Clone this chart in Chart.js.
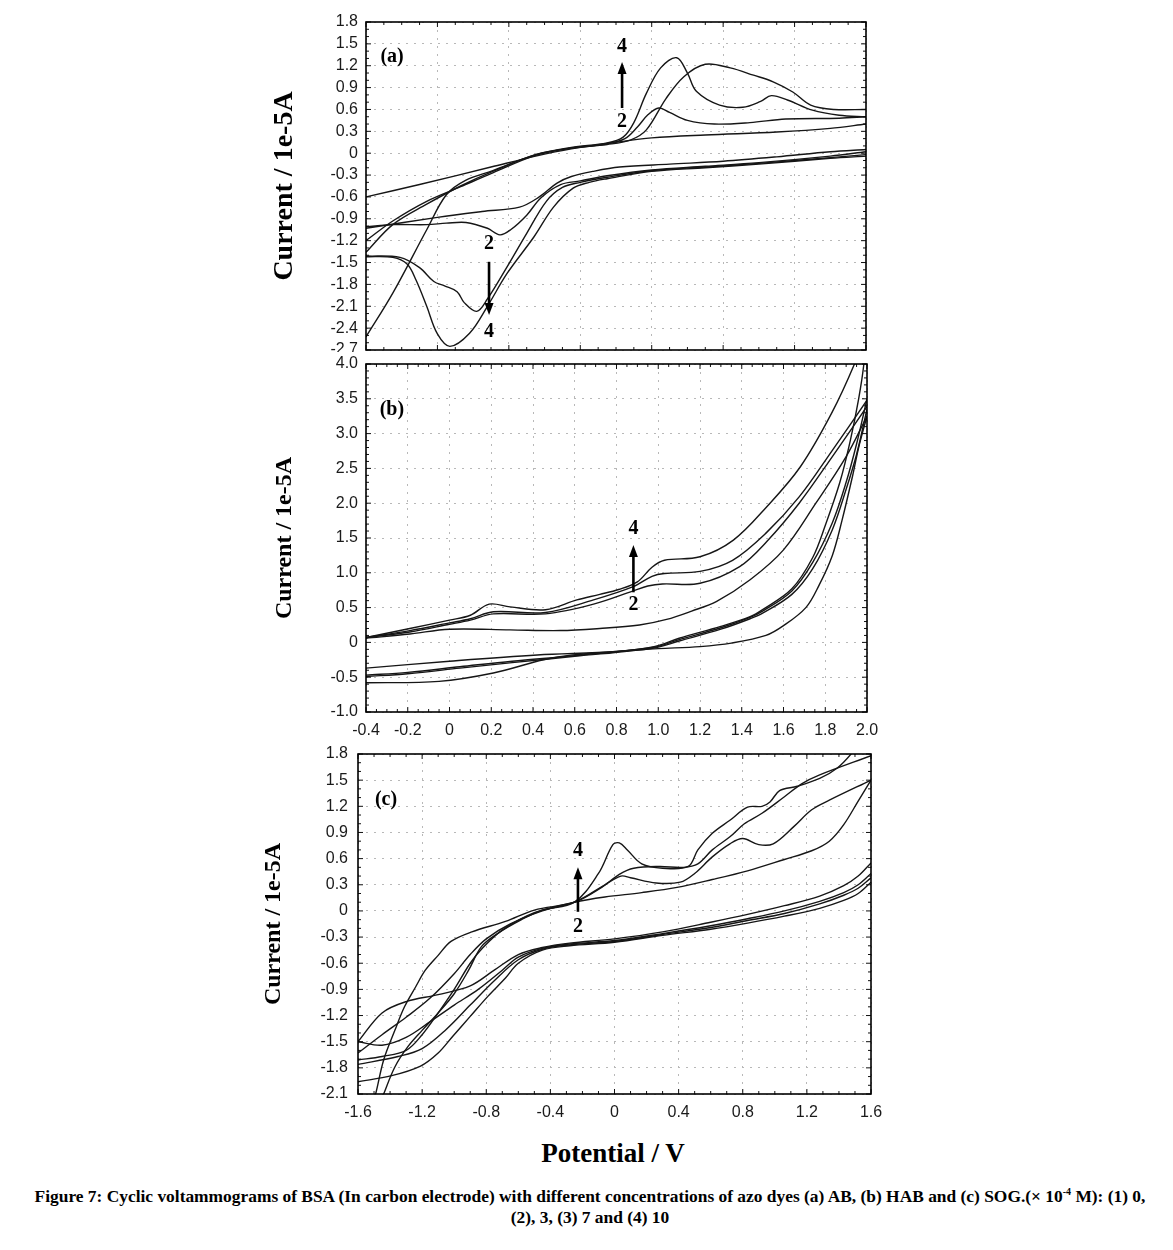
<!DOCTYPE html>
<html>
<head>
<meta charset="utf-8">
<script src="https://cdn.jsdelivr.net/npm/chart.js@4.4.1/dist/chart.umd.min.js"></script>
<style>
  body { margin: 0; background: #fff; }
  #page { position: relative; width: 1173px; height: 1250px; overflow: hidden; background: #fff; }
  canvas { position: absolute; }
  .xtitle { position: absolute; left: 463px; width: 300px; top: 1137px; text-align: center;
            font: bold 27px/32px "Liberation Serif", "Times New Roman", serif; color: #000; }
  .caption { position: absolute; left: 0; width: 1180px; top: 1186px; text-align: center;
             font: bold 17.4px/21px "Liberation Serif", "Times New Roman", serif; color: #000; white-space: nowrap; }
  .caption sup { font-size: 10px; line-height: 0; }
</style>
</head>
<body>
<div id="page">
  <canvas id="chartA" width="620" height="342" style="left:260px;top:10px"></canvas>
  <canvas id="chartB" width="620" height="390" style="left:260px;top:355px"></canvas>
  <canvas id="chartC" width="635" height="395" style="left:250px;top:740px"></canvas>
  <div class="xtitle">Potential / V</div>
  <div class="caption">Figure 7: Cyclic voltammograms of BSA (In carbon electrode) with different concentrations of azo dyes (a) AB, (b) HAB and (c) SOG.(× 10<sup>-4</sup> M): (1) 0,<br>(2), 3, (3) 7 and (4) 10</div>
</div>
<script>
// ---- tick labels ----
const aXTicks = [-0.4, 0, 0.4, 0.8, 1.2, 1.6, 2.0, 2.4];
const aYTicks = [-2.7, -2.4, -2.1, -1.8, -1.5, -1.2, -0.9, -0.6, -0.3, 0, 0.3, 0.6, 0.9, 1.2, 1.5, 1.8];
const bXTicks = [-0.4, -0.2, 0, 0.2, 0.4, 0.6, 0.8, 1.0, 1.2, 1.4, 1.6, 1.8, 2.0];
const bYTicks = [-1.0, -0.5, 0, 0.5, 1.0, 1.5, 2.0, 2.5, 3.0, 3.5, 4.0];
const cXTicks = [-1.6, -1.2, -0.8, -0.4, 0, 0.4, 0.8, 1.2, 1.6];
const cYTicks = [-2.1, -1.8, -1.5, -1.2, -0.9, -0.6, -0.3, 0, 0.3, 0.6, 0.9, 1.2, 1.5, 1.8];

// ---- (a) AB : [potential V, current 1e-5A], forward and reverse sweeps ----
const a1Fwd = [[-0.4,-0.6],[-0.1,-0.43],[0.3,-0.19],[0.55,-0.04],[0.75,0.06],[1.0,0.15],[1.2,0.21],[1.5,0.25],[1.9,0.29],[2.2,0.34],[2.4,0.4]];
const a2Fwd = [[-0.4,-1.2],[-0.25,-0.93],[-0.06,-0.66],[0.13,-0.46],[0.31,-0.27],[0.55,-0.03],[0.75,0.07],[0.95,0.13],[1.05,0.2],[1.12,0.36],[1.18,0.53],[1.24,0.62],[1.3,0.56],[1.4,0.45],[1.55,0.4],[1.75,0.42],[1.95,0.47],[2.25,0.48],[2.4,0.5]];
const a3Fwd = [[-0.4,-1.36],[-0.25,-0.98],[-0.06,-0.7],[0.13,-0.45],[0.31,-0.25],[0.55,-0.02],[0.75,0.07],[0.95,0.12],[1.08,0.18],[1.17,0.32],[1.28,0.75],[1.38,1.05],[1.5,1.22],[1.64,1.17],[1.77,1.07],[1.88,0.98],[1.99,0.84],[2.09,0.66],[2.22,0.6],[2.4,0.6]];
const a4Fwd = [[-0.4,-2.52],[-0.25,-1.92],[-0.06,-1.05],[0.05,-0.57],[0.16,-0.37],[0.31,-0.24],[0.55,-0.02],[0.75,0.08],[0.95,0.14],[1.04,0.22],[1.1,0.42],[1.17,0.82],[1.25,1.17],[1.34,1.31],[1.4,1.1],[1.45,0.85],[1.58,0.66],[1.71,0.63],[1.81,0.71],[1.87,0.79],[1.96,0.73],[2.1,0.59],[2.25,0.52],[2.4,0.5]];
const a1Rev = [[2.4,0.05],[2.2,0.02],[1.9,-0.05],[1.6,-0.11],[1.3,-0.15],[1.02,-0.19],[0.87,-0.25],[0.75,-0.32],[0.67,-0.41],[0.57,-0.6],[0.46,-0.74],[0.25,-0.8],[0.0,-0.88],[-0.4,-1.03]];
const a2Rev = [[2.4,0.02],[2.2,-0.04],[1.8,-0.13],[1.5,-0.18],[1.2,-0.23],[0.95,-0.31],[0.8,-0.38],[0.69,-0.43],[0.58,-0.61],[0.5,-0.85],[0.41,-1.05],[0.35,-1.12],[0.28,-1.03],[0.16,-0.95],[0.05,-0.96],[-0.06,-0.98],[-0.25,-0.98],[-0.4,-1.01]];
const a3Rev = [[2.4,-0.02],[2.2,-0.06],[1.8,-0.14],[1.5,-0.19],[1.2,-0.24],[0.95,-0.33],[0.8,-0.4],[0.7,-0.47],[0.61,-0.66],[0.5,-1.1],[0.39,-1.56],[0.28,-2.0],[0.22,-2.17],[0.15,-2.05],[0.11,-1.9],[0.04,-1.82],[-0.02,-1.76],[-0.1,-1.57],[-0.21,-1.43],[-0.4,-1.41]];
const a4Rev = [[2.4,-0.04],[2.2,-0.07],[1.8,-0.15],[1.5,-0.2],[1.2,-0.25],[0.95,-0.35],[0.85,-0.4],[0.76,-0.48],[0.65,-0.74],[0.54,-1.15],[0.39,-1.65],[0.28,-2.1],[0.18,-2.47],[0.07,-2.65],[0.0,-2.48],[-0.06,-2.1],[-0.12,-1.74],[-0.17,-1.52],[-0.25,-1.43],[-0.4,-1.42]];

// ---- (b) HAB ----
const b1Fwd = [[-0.4,0.06],[-0.19,0.12],[0.0,0.19],[0.29,0.18],[0.53,0.17],[0.72,0.2],[0.91,0.25],[1.04,0.33],[1.16,0.45],[1.28,0.59],[1.44,0.9],[1.6,1.33],[1.755,2.0],[1.9,2.67],[2.0,3.25]];
const b2Fwd = [[-0.4,0.07],[-0.19,0.15],[0.0,0.26],[0.1,0.32],[0.21,0.41],[0.46,0.41],[0.69,0.55],[0.88,0.74],[0.95,0.81],[1.02,0.84],[1.2,0.85],[1.39,1.09],[1.52,1.45],[1.675,2.0],[1.834,2.67],[2.0,3.39]];
const b3Fwd = [[-0.4,0.07],[-0.19,0.17],[0.0,0.28],[0.1,0.34],[0.21,0.44],[0.46,0.43],[0.69,0.61],[0.88,0.8],[0.97,0.95],[1.03,0.99],[1.2,1.02],[1.356,1.18],[1.516,1.57],[1.675,2.09],[1.834,2.76],[2.0,3.48]];
const b4Fwd = [[-0.4,0.07],[-0.19,0.2],[0.0,0.32],[0.1,0.39],[0.19,0.55],[0.29,0.51],[0.46,0.47],[0.61,0.61],[0.72,0.69],[0.81,0.76],[0.9,0.87],[0.97,1.08],[1.03,1.18],[1.2,1.23],[1.36,1.47],[1.52,1.95],[1.68,2.52],[1.83,3.29],[1.94,4.0],[2.0,4.5]];
const b1Rev = [[2.0,3.25],[1.96,2.8],[1.93,2.38],[1.88,1.75],[1.834,1.25],[1.77,0.82],[1.707,0.5],[1.6,0.24],[1.516,0.1],[1.35,-0.01],[1.2,-0.06],[1.0,-0.09],[0.9,-0.11],[0.59,-0.18],[0.45,-0.25],[0.21,-0.44],[-0.05,-0.56],[-0.4,-0.58]];
const b2Rev = [[2.0,3.35],[1.95,2.7],[1.9,2.2],[1.834,1.62],[1.74,1.06],[1.64,0.69],[1.5,0.42],[1.44,0.34],[1.3,0.19],[1.1,0.02],[0.98,-0.08],[0.6,-0.2],[0.3,-0.29],[0.05,-0.37],[-0.2,-0.45],[-0.4,-0.49]];
const b3Rev = [[2.0,3.5],[1.95,2.85],[1.9,2.3],[1.834,1.72],[1.74,1.15],[1.64,0.74],[1.5,0.45],[1.44,0.36],[1.3,0.21],[1.1,0.04],[0.98,-0.07],[0.6,-0.19],[0.3,-0.27],[0.05,-0.35],[-0.2,-0.43],[-0.4,-0.47]];
const b4Rev = [[2.0,4.6],[1.985,4.0],[1.96,3.5],[1.92,2.9],[1.87,2.3],[1.8,1.68],[1.74,1.22],[1.64,0.77],[1.5,0.47],[1.44,0.37],[1.3,0.23],[1.1,0.06],[0.98,-0.06],[0.8,-0.13],[0.42,-0.18],[0.0,-0.27],[-0.4,-0.37]];

// ---- (c) SOG ----
const c1Fwd = [[-1.6,-1.63],[-1.45,-1.42],[-1.3,-1.22],[-1.15,-1.0],[-1.0,-0.72],[-0.9,-0.5],[-0.8,-0.32],[-0.65,-0.15],[-0.45,0.0],[-0.25,0.1],[-0.06,0.16],[0.17,0.21],[0.39,0.27],[0.61,0.36],[0.83,0.46],[1.06,0.59],[1.23,0.69],[1.34,0.8],[1.43,0.99],[1.52,1.26],[1.6,1.5]];
const c2Fwd = [[-1.6,-1.71],[-1.45,-1.67],[-1.3,-1.6],[-1.2,-1.42],[-1.1,-1.17],[-1.0,-0.9],[-0.9,-0.6],[-0.82,-0.42],[-0.7,-0.22],[-0.5,-0.02],[-0.25,0.1],[-0.06,0.3],[0.04,0.4],[0.1,0.38],[0.26,0.32],[0.41,0.33],[0.5,0.43],[0.61,0.62],[0.72,0.77],[0.8,0.83],[0.9,0.76],[0.99,0.77],[1.12,0.97],[1.23,1.16],[1.34,1.27],[1.6,1.5]];
const c3Fwd = [[-1.51,-2.2],[-1.49,-2.1],[-1.44,-1.71],[-1.37,-1.37],[-1.31,-1.1],[-1.24,-0.87],[-1.18,-0.68],[-1.1,-0.51],[-1.02,-0.35],[-0.89,-0.24],[-0.68,-0.12],[-0.5,0.01],[-0.25,0.1],[-0.08,0.27],[0.03,0.42],[0.12,0.49],[0.28,0.51],[0.43,0.5],[0.52,0.54],[0.61,0.7],[0.72,0.85],[0.81,1.0],[0.92,1.12],[1.06,1.31],[1.17,1.46],[1.28,1.56],[1.6,1.78]];
const c4Fwd = [[-1.46,-2.2],[-1.44,-2.1],[-1.37,-1.79],[-1.29,-1.56],[-1.2,-1.37],[-1.1,-1.17],[-1.0,-0.95],[-0.91,-0.68],[-0.83,-0.41],[-0.73,-0.26],[-0.58,-0.1],[-0.45,0.01],[-0.25,0.1],[-0.1,0.43],[-0.01,0.76],[0.03,0.78],[0.08,0.7],[0.17,0.54],[0.3,0.49],[0.46,0.51],[0.52,0.7],[0.61,0.89],[0.72,1.04],[0.83,1.19],[0.92,1.2],[0.97,1.25],[1.03,1.38],[1.14,1.43],[1.28,1.52],[1.39,1.64],[1.48,1.81],[1.55,2.0]];
const c1Rev = [[1.6,0.55],[1.52,0.4],[1.43,0.29],[1.28,0.17],[1.06,0.06],[0.83,-0.04],[0.6,-0.13],[0.3,-0.24],[0.0,-0.32],[-0.28,-0.37],[-0.45,-0.42],[-0.6,-0.5],[-0.75,-0.68],[-0.9,-0.86],[-1.1,-0.96],[-1.3,-1.04],[-1.45,-1.17],[-1.6,-1.5]];
const c2Rev = [[1.6,0.43],[1.52,0.3],[1.43,0.21],[1.28,0.11],[1.06,0.0],[0.83,-0.09],[0.6,-0.17],[0.3,-0.26],[0.0,-0.34],[-0.28,-0.38],[-0.45,-0.43],[-0.6,-0.53],[-0.7,-0.68],[-0.85,-0.9],[-1.0,-1.08],[-1.15,-1.27],[-1.3,-1.45],[-1.45,-1.54],[-1.6,-1.5]];
const c3Rev = [[1.6,0.38],[1.52,0.26],[1.43,0.18],[1.28,0.08],[1.06,-0.03],[0.83,-0.11],[0.6,-0.19],[0.3,-0.27],[0.0,-0.35],[-0.28,-0.39],[-0.45,-0.44],[-0.6,-0.56],[-0.75,-0.8],[-0.9,-1.08],[-1.05,-1.36],[-1.2,-1.58],[-1.35,-1.67],[-1.6,-1.76]];
const c4Rev = [[1.6,0.33],[1.52,0.2],[1.43,0.12],[1.28,0.03],[1.06,-0.06],[0.83,-0.14],[0.6,-0.21],[0.3,-0.28],[0.0,-0.36],[-0.28,-0.4],[-0.45,-0.45],[-0.6,-0.6],[-0.68,-0.77],[-0.79,-0.98],[-0.9,-1.21],[-1.01,-1.44],[-1.1,-1.63],[-1.21,-1.78],[-1.39,-1.89],[-1.6,-1.96]];

const tickFont = { family: "'Liberation Sans', Arial, sans-serif", size: 16 };
const noteFont = "bold 20px 'Liberation Serif', 'Times New Roman', serif";
function titleFont(size) { return { family: "'Liberation Serif', 'Times New Roman', serif", size: size, weight: 'bold' }; }

function pts(arr) { return arr.map(p => ({ x: p[0], y: p[1] })); }
function fmt(v) { return v === 0 ? '0' : v.toFixed(1); }

// box, inner ticks on all four sides, panel labels and arrows
const framePlugin = {
  id: 'frame',
  afterDatasetsDraw(chart, args, o) {
    const { ctx, chartArea: a, scales: { x, y } } = chart;
    ctx.save();
    ctx.strokeStyle = '#111';
    ctx.lineWidth = 1;
    const drawTicks = (scale, n, horiz) => {
      const vals = scale.ticks.map(t => t.value);
      for (let k = 0; k < vals.length; k++) {
        const marks = [[vals[k], 5]];
        if (k < vals.length - 1) {
          for (let m = 1; m < n; m++) marks.push([vals[k] + (vals[k + 1] - vals[k]) * m / n, 3]);
        }
        marks.forEach(([v, len]) => {
          const p = scale.getPixelForValue(v);
          ctx.beginPath();
          if (horiz) {
            ctx.moveTo(p, a.top); ctx.lineTo(p, a.top + len);
            ctx.moveTo(p, a.bottom); ctx.lineTo(p, a.bottom - len);
          } else {
            ctx.moveTo(a.left, p); ctx.lineTo(a.left + len, p);
            ctx.moveTo(a.right, p); ctx.lineTo(a.right - len, p);
          }
          ctx.stroke();
        });
      }
    };
    drawTicks(x, o.xMinor, true);
    drawTicks(y, o.yMinor, false);
    ctx.lineWidth = 1.6;
    ctx.strokeStyle = '#000';
    ctx.strokeRect(a.left, a.top, a.right - a.left, a.bottom - a.top);

    ctx.fillStyle = '#000';
    ctx.strokeStyle = '#000';
    ctx.textAlign = 'center';
    ctx.textBaseline = 'middle';
    ctx.font = noteFont;
    (o.notes || []).forEach(n => {
      ctx.fillText(n.text, x.getPixelForValue(n.x), y.getPixelForValue(n.y));
    });
    (o.arrows || []).forEach(ar => {
      const px = x.getPixelForValue(ar.x);
      const y0 = y.getPixelForValue(ar.from);
      const y1 = y.getPixelForValue(ar.to);
      const dir = Math.sign(y1 - y0);
      ctx.lineWidth = 2.6;
      ctx.beginPath(); ctx.moveTo(px, y0); ctx.lineTo(px, y1 - dir * 10); ctx.stroke();
      ctx.beginPath();
      ctx.moveTo(px, y1);
      ctx.lineTo(px - 4.5, y1 - dir * 12);
      ctx.lineTo(px + 4.5, y1 - dir * 12);
      ctx.closePath();
      ctx.fill();
    });
    ctx.restore();
  }
};

function makeCV(id, p) {
  return new Chart(document.getElementById(id), {
    type: 'scatter',
    data: {
      datasets: p.branches.map(b => ({
        data: pts(b), showLine: true, borderColor: '#161616', borderWidth: 1.4,
        pointRadius: 0, tension: 0.35, fill: false
      }))
    },
    options: {
      responsive: false,
      animation: false,
      layout: { padding: p.pad },
      plugins: {
        legend: { display: false },
        tooltip: { enabled: false },
        frame: { xMinor: p.xMinor, yMinor: p.yMinor, notes: p.notes, arrows: p.arrows }
      },
      scales: {
        x: {
          type: 'linear',
          min: p.xTicks[0], max: p.xTicks[p.xTicks.length - 1],
          afterBuildTicks: s => { s.ticks = p.xTicks.map(v => ({ value: v })); },
          afterFit: s => { s.height = p.xHeight; s.paddingLeft = 0; s.paddingRight = 0; },
          ticks: { display: p.showX, callback: fmt, font: tickFont, color: '#1a1a1a', padding: 9, maxRotation: 0, autoSkip: false },
          grid: { color: '#b8b8b8', drawTicks: false },
          border: { display: false, dash: [2, 6] }
        },
        y: {
          type: 'linear',
          min: p.yTicks[0], max: p.yTicks[p.yTicks.length - 1],
          afterBuildTicks: s => { s.ticks = p.yTicks.map(v => ({ value: v })); },
          afterFit: s => { s.width = p.yWidth; s.paddingTop = 0; s.paddingBottom = 0; },
          ticks: { callback: fmt, font: tickFont, color: '#1a1a1a', padding: p.yPad, autoSkip: false },
          grid: { color: '#b8b8b8', drawTicks: false },
          border: { display: false, dash: [2, 6] },
          title: { display: true, text: 'Current / 1e-5A', font: titleFont(p.titleSize), color: '#000', padding: { top: p.titlePad, bottom: 0 } }
        }
      }
    },
    plugins: [framePlugin]
  });
}

makeCV('chartA', {
  branches: [a1Fwd, a2Fwd, a3Fwd, a4Fwd, a1Rev, a2Rev, a3Rev, a4Rev],
  xTicks: aXTicks, yTicks: aYTicks, showX: false,
  xHeight: 0, yWidth: 106, yPad: 8, titlePad: 8, titleSize: 28,
  pad: { left: 0, top: 12, right: 14, bottom: 2 },
  xMinor: 4, yMinor: 3,
  notes: [
    { text: '(a)', x: -0.254, y: 1.32 },
    { text: '4', x: 1.034, y: 1.46 }, { text: '2', x: 1.034, y: 0.43 },
    { text: '2', x: 0.289, y: -1.245 }, { text: '4', x: 0.289, y: -2.45 }
  ],
  arrows: [{ x: 1.034, from: 0.62, to: 1.25 }, { x: 0.289, from: -1.49, to: -2.22 }]
});

makeCV('chartB', {
  branches: [b1Fwd, b2Fwd, b3Fwd, b4Fwd, b1Rev, b2Rev, b3Rev, b4Rev],
  xTicks: bXTicks, yTicks: bYTicks, showX: true,
  xHeight: 33, yWidth: 106, yPad: 8, titlePad: 10, titleSize: 24,
  pad: { left: 0, top: 9, right: 13, bottom: 0 },
  xMinor: 4, yMinor: 5,
  notes: [
    { text: '(b)', x: -0.276, y: 3.34 },
    { text: '4', x: 0.881, y: 1.63 }, { text: '2', x: 0.881, y: 0.54 }
  ],
  arrows: [{ x: 0.881, from: 0.72, to: 1.40 }]
});

makeCV('chartC', {
  branches: [c1Fwd, c2Fwd, c3Fwd, c4Fwd, c1Rev, c2Rev, c3Rev, c4Rev],
  xTicks: cXTicks, yTicks: cYTicks, showX: true,
  xHeight: 36, yWidth: 108, yPad: 10, titlePad: 9, titleSize: 24,
  pad: { left: 0, top: 14, right: 14, bottom: 5 },
  xMinor: 4, yMinor: 3,
  notes: [
    { text: '(c)', x: -1.425, y: 1.28 },
    { text: '4', x: -0.228, y: 0.69 }, { text: '2', x: -0.228, y: -0.18 }
  ],
  arrows: [{ x: -0.228, from: -0.01, to: 0.50 }]
});
</script>
</body>
</html>
